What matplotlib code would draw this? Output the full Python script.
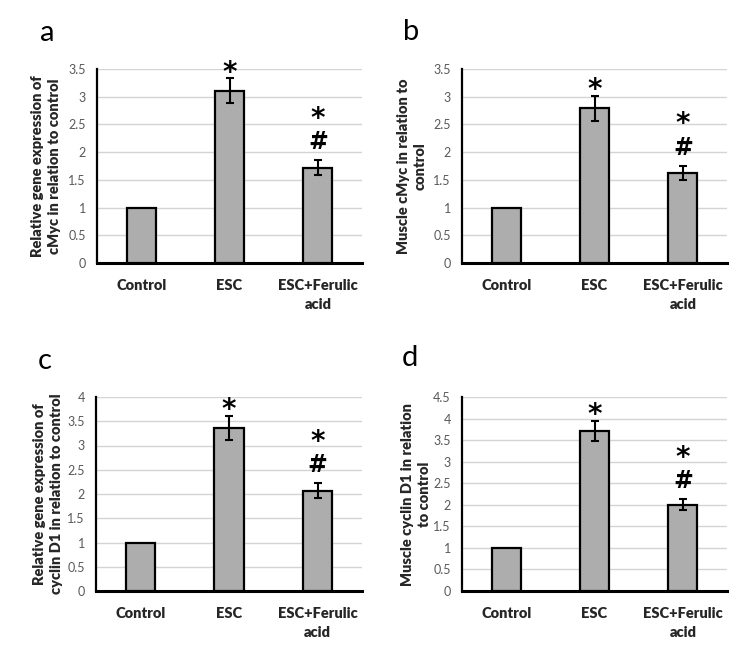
import matplotlib
matplotlib.use("Agg")
import matplotlib.pyplot as plt
import numpy as np

plt.rcParams['font.family'] = ['Lato', 'DejaVu Sans']

categories = ["Control", "ESC", "ESC+Ferulic\nacid"]

# panel a: relative gene expression of cMyc
a_vals = [1.0, 3.11, 1.72]
a_err = [0.0, 0.22, 0.13]
# panel b: muscle cMyc
b_vals = [1.0, 2.79, 1.62]
b_err = [0.0, 0.23, 0.13]
# panel c: relative gene expression of cyclin D1
c_vals = [1.0, 3.36, 2.07]
c_err = [0.0, 0.25, 0.15]
# panel d: muscle cyclin D1
d_vals = [1.0, 3.72, 2.0]
d_err = [0.0, 0.23, 0.13]

ylabels = ["Relative gene expression of\ncMyc in relation to control",
           "Muscle cMyc in relation to\ncontrol",
           "Relative gene expression of\ncyclin D1 in relation to control",
           "Muscle cyclin D1 in relation\nto control"]
panel_letters = ["a", "b", "c", "d"]
ymaxes = [3.5, 3.5, 4.0, 4.5]

W, H = 750, 655
fig = plt.figure(figsize=(W/100, H/100), dpi=100)

# axes boxes in pixels: left, top, right, bottom
boxes = [(97, 69, 362, 263), (462, 69, 727, 263),
         (96, 397, 362, 591), (462, 397, 727, 591)]
letter_pos = [(47, 33), (411, 32), (45, 361), (410, 358)]
label_off = [-51, -50, -48, -46]

values = [a_vals, b_vals, c_vals, d_vals]
errors = [a_err, b_err, c_err, d_err]

bar_color = "#ADADAD"
for i in range(4):
    l, t, r, b = boxes[i]
    ax = fig.add_axes([l/W, 1-b/H, (r-l)/W, (b-t)/H])
    x = np.arange(len(categories))
    vals = values[i]
    errs = errors[i]
    ax.bar(x, vals, width=0.33, color=bar_color, edgecolor="black", linewidth=1.6, zorder=3)
    ax.errorbar(x[1:], vals[1:], yerr=errs[1:], fmt='none', ecolor='black',
                elinewidth=1.5, capsize=3, capthick=1.5, zorder=4)
    ax.set_xlim(-0.5, 2.5)
    ax.set_ylim(0, ymaxes[i])
    ax.set_yticks(np.arange(0, ymaxes[i] + 0.01, 0.5))
    ax.set_yticklabels([f"{v:g}" for v in np.arange(0, ymaxes[i] + 0.01, 0.5)])
    ax.yaxis.grid(True, color="#D4D4D4", linewidth=1.0, zorder=0)
    ax.set_axisbelow(True)
    for s in ["top", "right"]:
        ax.spines[s].set_visible(False)
    ax.spines["left"].set_linewidth(1.6)
    ax.spines["bottom"].set_linewidth(2.2)
    ax.tick_params(axis='both', length=0)
    ax.tick_params(axis='y', labelsize=9, labelcolor="#595959", pad=8)
    ax.set_xticks(x)
    ax.set_xticklabels(categories, fontsize=10.5, fontweight='heavy', color="#262626",
                       linespacing=1.55)
    ax.tick_params(axis='x', pad=11.5)
    ax.set_ylabel(ylabels[i], fontsize=10.5, fontweight='heavy', color="#262626",
                  linespacing=1.3, va='center')
    ax.yaxis.set_label_coords(label_off[i]/(r-l), 0.5)
    # significance marks
    ax.annotate("*", (1, vals[1] + errs[1]), xytext=(0, 4), textcoords='offset points',
                ha='center', va='center', fontsize=20, fontweight='heavy',
                family='DejaVu Sans', annotation_clip=False)
    ax.annotate("#", (2, vals[2] + errs[2]), xytext=(0, 13), textcoords='offset points',
                ha='center', va='center', fontsize=17, fontweight='heavy',
                family='DejaVu Sans', annotation_clip=False)
    ax.annotate("*", (2, vals[2] + errs[2]), xytext=(0, 30), textcoords='offset points',
                ha='center', va='center', fontsize=20, fontweight='heavy',
                family='DejaVu Sans', annotation_clip=False)
    lx, ly = letter_pos[i]
    fig.text(lx/W, 1-ly/H, panel_letters[i], fontsize=21, ha='center', va='center')

fig.savefig("out.png", dpi=100)
